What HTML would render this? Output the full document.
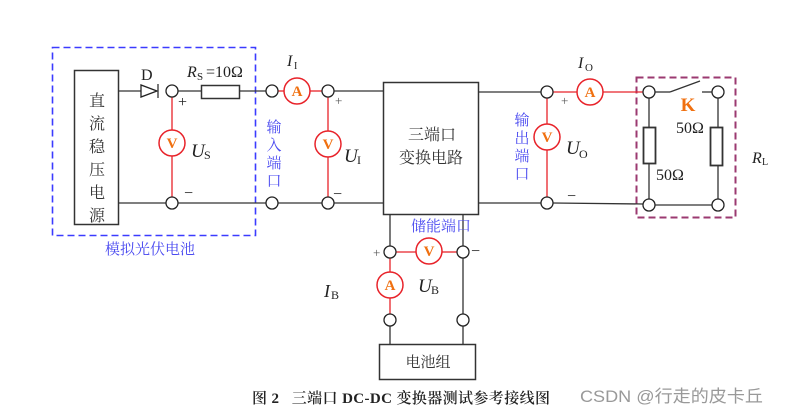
<!DOCTYPE html>
<html><head><meta charset="utf-8"><style>
html,body{margin:0;padding:0;background:#fff;}
svg{display:block;}
text{font-family:"Liberation Serif","Noto Serif CJK SC",serif;}
.cj{font-family:"Liberation Serif","Noto Serif CJK SC","Noto Sans CJK SC",serif;}
</style></head><body>
<svg width="797" height="412" viewBox="0 0 797 412" xmlns="http://www.w3.org/2000/svg">
<g fill="none" stroke-width="1.3">
<rect x="52.5" y="47.5" width="203" height="188" stroke="#3b3bff" stroke-dasharray="7,4" stroke-width="1.6"/>
<rect x="636.5" y="77.5" width="99" height="140" stroke="#9b3a70" stroke-dasharray="7,4" stroke-width="2"/>
<g stroke="#333">
<rect x="74.5" y="70.5" width="44" height="154" stroke-width="1.5"/>
<line x1="118" y1="91" x2="141" y2="91"/>
<line x1="178" y1="91" x2="201" y2="91"/>
<rect x="201.5" y="85.5" width="38" height="13" stroke-width="1.5"/>
<line x1="239" y1="91" x2="266" y2="91"/>
<line x1="334" y1="91" x2="383" y2="91"/>
<line x1="118" y1="203" x2="166" y2="203"/>
<line x1="178" y1="203" x2="266" y2="203"/>
<line x1="278" y1="203" x2="322" y2="203"/>
<line x1="334" y1="203" x2="383" y2="203"/>
<rect x="383.5" y="82.5" width="95" height="132" stroke-width="1.5"/>
<line x1="478" y1="92" x2="541" y2="92"/>
<line x1="478" y1="203" x2="541" y2="203"/>
<line x1="553" y1="203" x2="643" y2="204"/>
<line x1="390" y1="214" x2="390" y2="246"/>
<line x1="463" y1="214" x2="463" y2="246"/>
<line x1="463" y1="258" x2="463" y2="314"/>
<line x1="390" y1="326" x2="390" y2="344"/>
<line x1="463" y1="326" x2="463" y2="344"/>
<rect x="379.5" y="344.5" width="96" height="35" stroke-width="1.5"/>
<line x1="655" y1="92" x2="670" y2="92"/>
<line x1="670" y1="92" x2="700" y2="81"/>
<line x1="702" y1="92" x2="712" y2="92"/>
<line x1="649" y1="98" x2="649" y2="127"/>
<line x1="649" y1="163" x2="649" y2="199"/>
<line x1="718" y1="98" x2="718" y2="127"/>
<line x1="718" y1="165" x2="718" y2="199"/>
<rect x="643.5" y="127.5" width="12" height="36" stroke-width="1.8"/>
<rect x="710.5" y="127.5" width="12" height="38" stroke-width="1.8"/>
<line x1="655" y1="205" x2="712" y2="205"/>
<polygon points="141,85 141,97 157,91" stroke="#222"/>
<line x1="158" y1="84" x2="158" y2="98"/>
</g>
<g stroke="#e8232a">
<line x1="172" y1="97" x2="172" y2="130"/><line x1="172" y1="156" x2="172" y2="197"/>
<line x1="278" y1="91" x2="284" y2="91"/><line x1="310" y1="91" x2="322" y2="91"/>
<line x1="328" y1="97" x2="328" y2="131"/><line x1="328" y1="157" x2="328" y2="197"/>
<line x1="553" y1="92" x2="577" y2="92"/><line x1="603" y1="92" x2="643" y2="92"/>
<line x1="547" y1="98" x2="547" y2="124"/><line x1="547" y1="150" x2="547" y2="197"/>
<line x1="396" y1="252" x2="416" y2="252"/><line x1="442" y1="252" x2="457" y2="252"/>
<line x1="390" y1="258" x2="390" y2="272"/><line x1="390" y1="298" x2="390" y2="314"/>
</g>
<g stroke="#222" fill="#fff">
<circle cx="172" cy="91" r="6"/><circle cx="172" cy="203" r="6"/>
<circle cx="272" cy="91" r="6"/><circle cx="272" cy="203" r="6"/>
<circle cx="328" cy="91" r="6"/><circle cx="328" cy="203" r="6"/>
<circle cx="547" cy="92" r="6"/><circle cx="547" cy="203" r="6"/>
<circle cx="649" cy="92" r="6"/><circle cx="718" cy="92" r="6"/>
<circle cx="649" cy="205" r="6"/><circle cx="718" cy="205" r="6"/>
<circle cx="390" cy="252" r="6"/><circle cx="463" cy="252" r="6"/>
<circle cx="390" cy="320" r="6"/><circle cx="463" cy="320" r="6"/>
</g>
<g stroke="#e8232a" fill="#fff" stroke-width="1.5">
<circle cx="172" cy="143" r="13"/><circle cx="297" cy="91" r="13"/>
<circle cx="328" cy="144" r="13"/><circle cx="590" cy="92" r="13"/>
<circle cx="547" cy="137" r="13"/><circle cx="429" cy="251" r="13"/>
<circle cx="390" cy="285" r="13"/>
</g>
</g>
<g fill="#f07010" font-weight="bold" font-size="15" text-anchor="middle">
<text x="172" y="148">V</text><text x="297" y="96">A</text><text x="328" y="149">V</text>
<text x="590" y="97">A</text><text x="547" y="142">V</text><text x="429" y="256">V</text><text x="390" y="290">A</text>
<text x="688" y="111" font-size="19">K</text>
</g>
<g fill="#222" font-size="16">
<text x="141" y="80">D</text>
<text x="187" y="77" font-style="italic">R</text><text x="197" y="80" font-size="11">S</text><text x="206" y="77">=10Ω</text>
<text x="287" y="66" font-style="italic">I</text><text x="294" y="69" font-size="10">I</text>
<text x="191" y="157" font-style="italic" font-size="19">U</text><text x="204" y="159" font-size="12">S</text>
<text x="344" y="162" font-style="italic" font-size="19">U</text><text x="357" y="164" font-size="12">I</text>
<text x="578" y="68" font-style="italic">I</text><text x="585" y="71" font-size="11">O</text>
<text x="566" y="154" font-style="italic" font-size="19">U</text><text x="579" y="158" font-size="12">O</text>
<text x="676" y="133">50Ω</text><text x="656" y="180">50Ω</text>
<text x="752" y="163" font-style="italic">R</text><text x="762" y="165" font-size="10">L</text>
<text x="324" y="297" font-style="italic" font-size="18">I</text><text x="331" y="299" font-size="12">B</text>
<text x="418" y="292" font-style="italic" font-size="19">U</text><text x="431" y="294" font-size="12">B</text>
<text x="178" y="107">+</text><text x="184" y="198">−</text>
<text x="335" y="105" font-size="13" fill="#555">+</text><text x="333" y="199">−</text>
<text x="561" y="105" font-size="13" fill="#555">+</text><text x="567" y="201">−</text>
<text x="373" y="257" font-size="13" fill="#555">+</text><text x="471" y="256">−</text>
</g>
<g class="cj" fill="#333" font-size="16" text-anchor="middle">
<text x="97" y="106">直</text><text x="97" y="129">流</text><text x="97" y="152">稳</text>
<text x="97" y="175">压</text><text x="97" y="198">电</text>
<text x="97" y="221">源</text>
<text x="432" y="140">三端口</text>
<text x="431" y="163">变换电路</text>
<text x="428" y="367" font-size="15">电池组</text>
</g>
<g class="cj" fill="#4a4af0" font-size="15" text-anchor="middle">
<text x="274" y="132">输</text><text x="274" y="150">入</text><text x="274" y="168">端</text><text x="274" y="186">口</text>
<text x="522" y="125">输</text><text x="522" y="143">出</text><text x="522" y="161">端</text><text x="522" y="179">口</text>
<text x="150" y="254">模拟光伏电池</text>
<text x="441" y="231">储能端口</text>
</g>
<text class="cj" x="252" y="403" font-size="15" font-weight="600" fill="#222" textLength="298" lengthAdjust="spacing" xml:space="preserve">图 2   三端口 DC-DC 变换器测试参考接线图</text>
<text x="580" y="402" font-size="17" fill="#999" textLength="183" lengthAdjust="spacingAndGlyphs" style="font-family:'Liberation Sans','Noto Sans CJK SC',sans-serif">CSDN @行走的皮卡丘</text>
</svg>
</body></html>
